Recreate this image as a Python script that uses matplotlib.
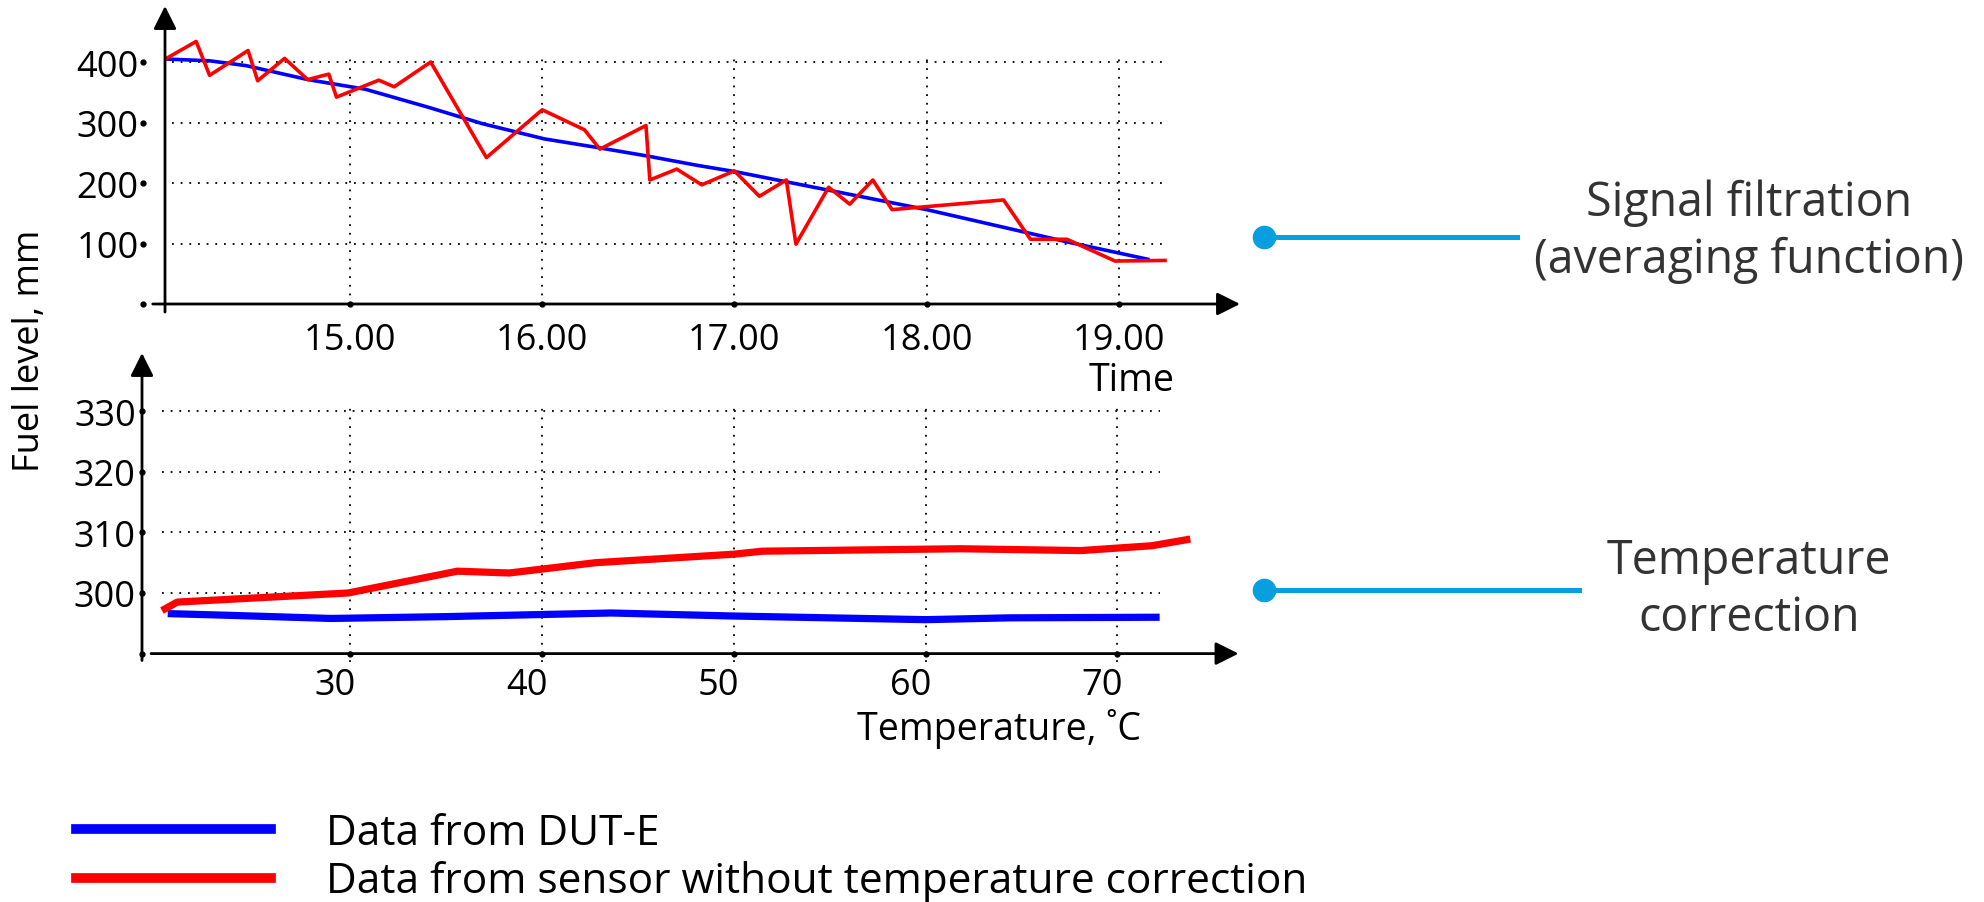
import matplotlib
matplotlib.use("Agg")
import matplotlib.pyplot as plt
from matplotlib.lines import Line2D
from matplotlib.transforms import ScaledTranslation, blended_transform_factory

plt.rcParams['font.family'] = ['Open Sans', 'DejaVu Sans']

# --- top panel: fuel level vs time of day ---
time_sensor = [14.04, 14.20, 14.27, 14.47, 14.52, 14.66, 14.78, 14.89, 14.93, 15.15,
               15.23, 15.42, 15.71, 16.00, 16.22, 16.30, 16.54, 16.56, 16.70, 16.83,
               17.00, 17.13, 17.27, 17.32, 17.49, 17.60, 17.72, 17.82, 18.40, 18.54,
               18.73, 18.98, 19.24]
level_sensor = [405, 434, 378, 419, 369, 406, 371, 380, 342, 370,
                359, 400, 242, 321, 288, 256, 295, 205, 223, 197,
                220, 178, 205, 99, 193, 165, 205, 156, 172, 107,
                107, 71, 72]
time_dute = [14.04, 14.27, 14.46, 14.78, 15.08, 15.41, 15.69, 16.01, 16.30, 16.54,
             16.81, 17.00, 18.00, 18.74, 19.15]
level_dute = [405, 402, 394, 371, 355, 325, 298, 273, 258, 245,
              229, 219, 156, 102, 74]
time_ticks = [15, 16, 17, 18, 19]
time_labels = ['15.00', '16.00', '17.00', '18.00', '19.00']
level_ticks = [0, 100, 200, 300, 400]
level_labels = ['', '100', '200', '300', '400']

# --- bottom panel: fuel level vs temperature ---
temp_sensor = [20.2, 21.0, 29.9, 35.6, 38.3, 42.8, 50.0, 51.5, 61.8, 68.1, 71.8, 73.8]
fuel_sensor = [297.1, 298.5, 300.0, 303.6, 303.3, 305.0, 306.4, 306.9, 307.3, 307.0, 307.8, 308.9]
temp_dute = [20.5, 23.9, 29.0, 35.0, 43.6, 50.0, 60.0, 64.4, 72.2]
fuel_dute = [296.6, 296.3, 295.8, 296.1, 296.7, 296.2, 295.6, 295.9, 296.0]
temp_ticks = [30, 40, 50, 60, 70]
fuel_ticks = [290, 300, 310, 320, 330]
fuel_labels = ['', '300', '310', '320', '330']

W, H = 1984, 903
fig = plt.figure(figsize=(W / 100, H / 100), dpi=100)
fig.patch.set_facecolor('white')

grid_style = dict(colors='black', linestyles=(0, (1, 3.8)), linewidth=1.3)


def axis_arrows(ax, x_start, y_start):
    head = dict(arrowstyle='-|>,head_length=1.0,head_width=0.5', color='black',
                lw=2.0, shrinkA=0, shrinkB=0, mutation_scale=14)
    ax.annotate('', xy=(1, 0), xytext=(x_start, 0), xycoords='axes fraction',
                arrowprops=head, annotation_clip=False)
    ax.annotate('', xy=(0, 1), xytext=(0, y_start), xycoords='axes fraction',
                arrowprops=head, annotation_clip=False)
    for s in ax.spines.values():
        s.set_visible(False)
    ax.tick_params(length=0, labelsize=26)
    ax.patch.set_alpha(0)


# top panel
ax1 = fig.add_axes([165 / W, 1 - 305 / H, 1075 / W, 298 / H])
ax1.set_xlim(14.038, 19.63)
ax1.set_ylim(0, 492.6)
ax1.hlines(level_ticks[1:], 14.075, 19.25, **grid_style)
ax1.vlines(time_ticks, 0, 413, **grid_style)
ax1.plot(time_dute, level_dute, color='#0000ff', lw=2.6, solid_joinstyle='round')
ax1.plot(time_sensor, level_sensor, color='#ff0000', lw=2.6)
axis_arrows(ax1, -0.0114, -0.027)
ax1.set_xticks(time_ticks, time_labels)
ax1.set_yticks(level_ticks, level_labels)
ax1.tick_params(axis='y', pad=19)
ax1.tick_params(axis='x', pad=13)
ax1.plot(time_ticks, [0] * len(time_ticks), 'o', color='black', ms=3.5, clip_on=False)
ax1.plot([-0.0205] * len(level_ticks), level_ticks, 'o', color='black', ms=3.5, clip_on=False,
         transform=blended_transform_factory(ax1.transAxes, ax1.transData))
ax1.set_xlabel('Time', fontsize=27)
ax1.xaxis.set_label_coords(0.8995, -0.255)
ax1.xaxis.label.set_va('center')

# bottom panel
ax2 = fig.add_axes([142 / W, 1 - 654.6 / H, 1096.5 / W, 300.6 / H])
ax2.set_xlim(19.16, 76.31)
ax2.set_ylim(290, 339.6)
ax2.hlines(fuel_ticks[1:], 20.18, 72.2, **grid_style)
ax2.vlines(temp_ticks, 288.6, 331.5, clip_on=False, **grid_style)
ax2.plot(temp_dute, fuel_dute, color='#0000ff', lw=5.2, solid_capstyle='butt')
ax2.plot(temp_sensor, fuel_sensor, color='#ff0000', lw=5.2, solid_capstyle='butt')
axis_arrows(ax2, 0.0082, -0.023)
ax2.set_xticks(temp_ticks)
ax2.set_yticks(fuel_ticks, fuel_labels)
ax2.tick_params(axis='y', pad=4.5)
ax2.tick_params(axis='x', pad=10)
for lbl in ax2.get_xticklabels():
    lbl.set_transform(lbl.get_transform() + ScaledTranslation(-0.15, 0, fig.dpi_scale_trans))
ax2.plot(temp_ticks, [290] * len(temp_ticks), 'o', color='black', ms=3.5, clip_on=False)
ax2.plot([0] * len(fuel_ticks), fuel_ticks, 'o', color='black', ms=3.5, clip_on=False,
         transform=blended_transform_factory(ax2.transAxes, ax2.transData))
ax2.set_xlabel('Temperature, ˚C', fontsize=27)
ax2.xaxis.set_label_coords(0.7816, -0.246)
ax2.xaxis.label.set_va('center')

fig.text(30 / W, 1 - 351 / H, 'Fuel level, mm', rotation=90, ha='center', va='center', fontsize=26)

# callouts on the right
callout = '#079fe0'
for y, x_end in [(237.7, 1516.5), (591, 1578.5)]:
    fig.add_artist(Line2D([1264 / W, x_end / W], [1 - y / H, 1 - y / H], transform=fig.transFigure,
                          color=callout, lw=3.6, marker='o', ms=16, markevery=[0]))
fig.text(1749 / W, 1 - 231.5 / H, 'Signal filtration\n(averaging function)', ha='center', va='center',
         fontsize=33.5, color='#333333', linespacing=1.25)
fig.text(1749 / W, 1 - 590 / H, 'Temperature\ncorrection', ha='center', va='center',
         fontsize=33.5, color='#333333', linespacing=1.25)

# legend
handles = [Line2D([], [], color='#0000ff', lw=7), Line2D([], [], color='#ff0000', lw=7)]
fig.legend(handles, ['Data from DUT-E', 'Data from sensor without temperature correction'],
           loc='upper left', bbox_to_anchor=(76 / W, 1 - 813 / H), frameon=False, fontsize=30.5,
           handlelength=4.6, handletextpad=1.3, borderpad=0, borderaxespad=0, labelspacing=0.15)

fig.savefig('out.png', dpi=100)
